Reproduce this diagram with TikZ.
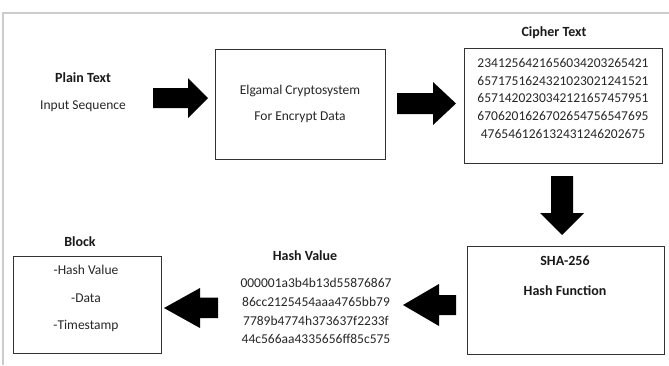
\documentclass[tikz,border=0pt]{standalone}
\usepackage{fontspec}
\setmainfont{Carlito}
\begin{document}
\begin{tikzpicture}[x=1pt,y=-1pt,
  txt/.style={font=\fontsize{13.5}{16}\selectfont, text=black!85, inner sep=0pt},
  lbl/.style={font=\fontsize{14}{16}\selectfont\bfseries, text=black!90, inner sep=0pt},
  box/.style={draw=black!80, line width=1.4pt, inner sep=0pt, anchor=north west},
  blockarrow/.style={fill=black}]
\useasboundingbox (0,0) rectangle (669,365);
% outer frame
\draw[gray!40, line width=1.2pt] (3,365) -- (3,13) -- (669,13);

% boxes
\node[box, minimum width=170pt, minimum height=110pt] (elg) at (215,49) {};
\node[box, minimum width=198pt, minimum height=115pt] (cph) at (464,48) {};
\node[box, minimum width=197pt, minimum height=108pt] (sha) at (467,246) {};
\node[box, minimum width=148pt, minimum height=97pt] (blk) at (13,256) {};

% plain text
\node[lbl] (pt) at (83,78) {Plain Text};
\node[txt] (is) at (83,106) {Input Sequence};

% elgamal
\node[txt] (e1) at (300,91) {Elgamal Cryptosystem};
\node[txt] (e2) at (300,117) {For Encrypt Data};

% cipher
\node[lbl] (ct) at (554,33) {Cipher Text};
\node[txt] (c1) at (563,63) {2341256421656034203265421};
\node[txt] (c2) at (563,80.5) {6571751624321023021241521};
\node[txt] (c3) at (563,98) {6571420230342121657457951};
\node[txt] (c4) at (563,115.5) {6706201626702654756547695};
\node[txt] (c5) at (563,133.5) {476546126132431246202675};

% sha
\node[lbl] (s1) at (565,261) {SHA-256};
\node[lbl] (s2) at (565,291) {Hash Function};

% hash value
\node[lbl] (hv) at (305,256) {Hash Value};
\node[txt] (h1) at (316,283) {000001a3b4b13d55876867};
\node[txt] (h2) at (316,302) {86cc2125454aaa4765bb79};
\node[txt] (h3) at (316,320.5) {7789b4774h373637f2233f};
\node[txt] (h4) at (316,338.5) {44c566aa4335656ff85c575};

% block
\node[lbl] (bl) at (80,242) {Block};
\node[txt] (b1) at (86,270) {-Hash Value};
\node[txt] (b2) at (86,298) {-Data};
\node[txt] (b3) at (86,326) {-Timestamp};

% block arrows
\fill[blockarrow] (153,88) -- (188,88) -- (188,78) -- (208,98) -- (188,118) -- (188,108) -- (153,108) -- cycle;
\fill[blockarrow] (397,93) -- (433,93) -- (433,82) -- (456,103.5) -- (433,125) -- (433,114) -- (397,114) -- cycle;
\fill[blockarrow] (551,176) -- (573,176) -- (573,213) -- (584,213) -- (562,235) -- (540,213) -- (551,213) -- cycle;
\fill[blockarrow] (456,295) -- (439,295) -- (439,284) -- (403,305) -- (439,326) -- (439,315) -- (456,315) -- cycle;
\fill[blockarrow] (218,297.5) -- (200,297.5) -- (200,288) -- (164,308) -- (200,328) -- (200,318) -- (218,318) -- cycle;
\end{tikzpicture}
\end{document}
